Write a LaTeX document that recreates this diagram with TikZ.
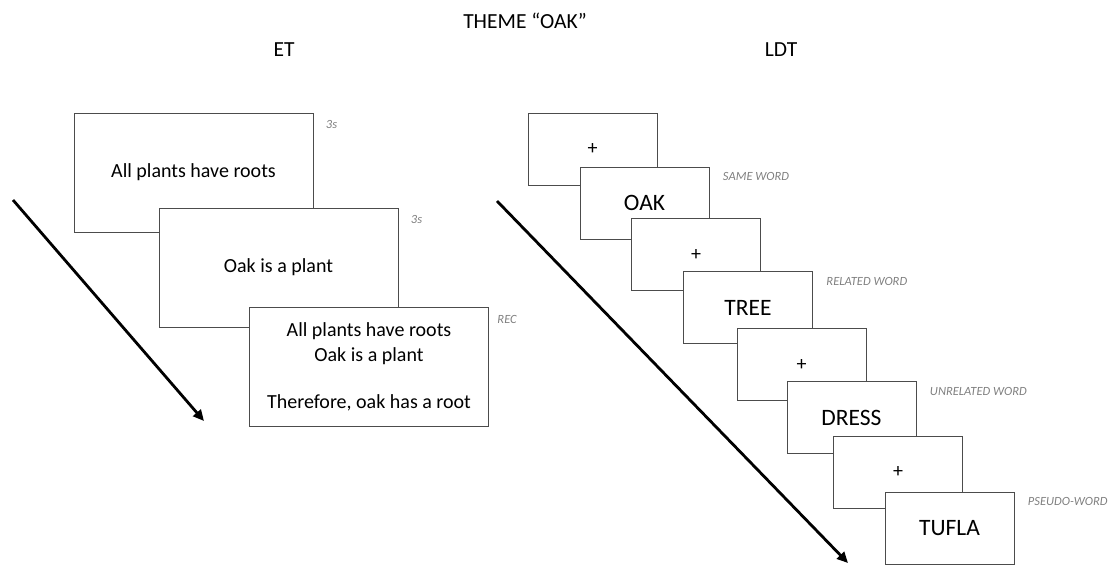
\documentclass[tikz,border=0pt]{standalone}
\usepackage{fontspec}
\setmainfont{Carlito}
\usetikzlibrary{arrows.meta,positioning}
\tikzset{
  screen/.style={draw=black!70,line width=0.9pt,fill=white,inner sep=0pt},
  bigscreen/.style={screen,minimum width=239pt,minimum height=119pt,font=\fontsize{20}{25}\selectfont},
  smallscreen/.style={screen,minimum width=129pt,minimum height=72pt,font=\fontsize{23.5}{28}\selectfont},
  fixscreen/.style={smallscreen,font=\fontsize{20}{24}\selectfont},
  tag/.style={anchor=west,text=black!50,font=\fontsize{12.5}{15}\itshape},
  heading/.style={font=\fontsize{21.5}{26}\selectfont},
  timeline/.style={line width=2.8pt,-{Triangle[length=11pt,width=10pt]}}
}
\begin{document}
\begin{tikzpicture}[x=1pt,y=-1pt]
  \useasboundingbox (0,0) rectangle (1114,565);
  % titles
  \node[heading] (theme) at (525,21) {THEME “OAK”};
  \node[heading] (et) at (284,50) {ET};
  \node[heading] (ldt) at (781,50) {LDT};
  % ET screens
  \node[bigscreen] (s1) at (193.5,172.5) {All plants have roots};
  \node[bigscreen] (s2) at (278.5,267.5) {Oak is a plant};
  \node[bigscreen,align=center] (s3) at (369,367)
    {All plants have roots\\Oak is a plant\\[22pt]Therefore, oak has a root};
  \node[tag] (t1) at ([shift={(9,12)}]s1.north east) {3s};
  \node[tag] (t2) at ([shift={(9,12)}]s2.north east) {3s};
  \node[tag] (t3) at ([shift={(5,12)}]s3.north east) {REC};
  % LDT screens
  \node[fixscreen] (f1) at (592.5,149) {+};
  \node[smallscreen] (w1) at (644.5,203) {OAK};
  \node[fixscreen] (f2) at (696,254.5) {+};
  \node[smallscreen] (w2) at (748,307.5) {TREE};
  \node[fixscreen] (f3) at (801.5,364.5) {+};
  \node[smallscreen] (w3) at (851.5,417.5) {DRESS};
  \node[fixscreen] (f4) at (898,472) {+};
  \node[smallscreen] (w4) at (949.5,528) {TUFLA};
  \node[tag] (l1) at ([shift={(10,10)}]w1.north east) {SAME WORD};
  \node[tag] (l2) at ([shift={(10,10)}]w2.north east) {RELATED WORD};
  \node[tag] (l3) at ([shift={(10,10)}]w3.north east) {UNRELATED WORD};
  \node[tag] (l4) at ([shift={(10,10)}]w4.north east) {PSEUDO-WORD};
  % time arrows
  \coordinate (a1) at (13,200);
  \coordinate (a2) at (204,421);
  \coordinate (b1) at (497,201);
  \coordinate (b2) at (848,563);
  \draw[timeline] (a1) -- (a2);
  \draw[timeline] (b1) -- (b2);
\end{tikzpicture}
\end{document}
